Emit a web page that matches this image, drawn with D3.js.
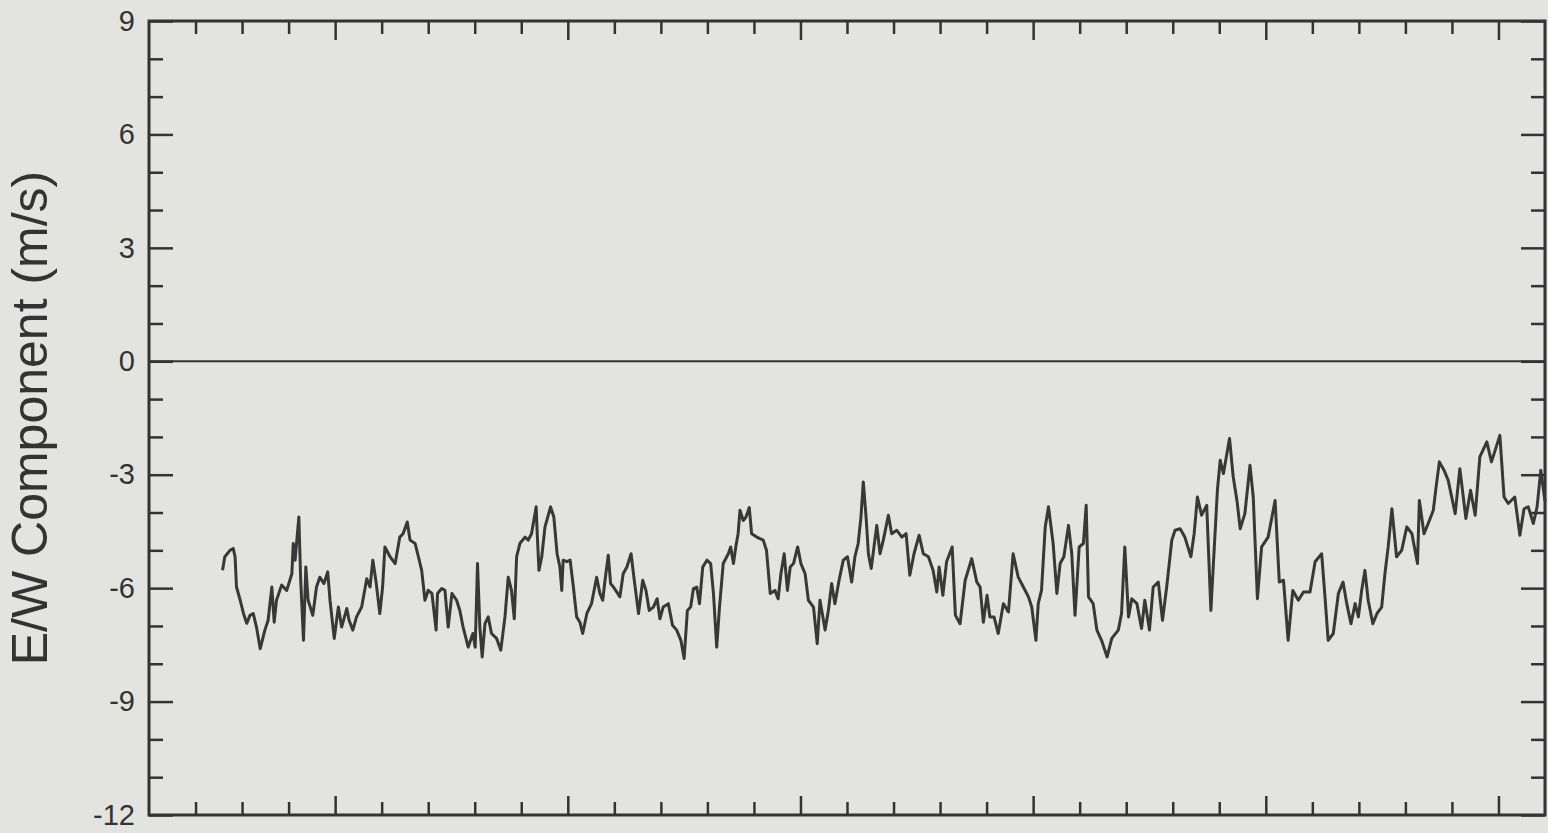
<!DOCTYPE html>
<html><head><meta charset="utf-8">
<script src="https://cdn.jsdelivr.net/npm/d3@7"></script>
<style>
html,body{margin:0;padding:0;background:#e3e4df;}
svg{display:block;}
</style></head>
<body>
<script>
// Time axis (unlabelled), 0..30 units
const timeDomain = [0, 30];
const valueDomain = [-12, 9];
const yMajorTicks = [9, 6, 3, 0, -3, -6, -9, -12];
const yMinorTicks = [8, 7, 5, 4, 2, 1, -1, -2, -4, -5, -7, -8, -10, -11];
const xMajorTicks = [4, 9, 14, 19, 24, 29];
const xMinorTicks = [1, 2, 3, 5, 6, 7, 8, 10, 11, 12, 13, 15, 16, 17, 18, 20, 21, 22, 23, 25, 26, 27, 28];
const yAxisTitle = "E/W Component (m/s)";

// E/W wind component series (time, m/s)
const times = [1.58,1.63,1.74,1.81,1.85,1.88,1.96,2.03,2.10,2.17,2.24,2.31,2.39,2.49,2.56,2.64,2.69,2.74,2.85,2.96,
3.07,3.10,3.14,3.22,3.26,3.32,3.37,3.42,3.52,3.60,3.67,3.76,3.84,3.89,3.98,4.07,4.14,4.25,4.30,4.38,
4.46,4.57,4.68,4.75,4.81,4.88,4.96,5.02,5.07,5.18,5.29,5.39,5.46,5.55,5.61,5.72,5.79,5.86,5.93,6.00,
6.08,6.17,6.20,6.29,6.36,6.43,6.51,6.61,6.68,6.75,6.86,6.96,7.01,7.06,7.11,7.16,7.22,7.29,7.36,7.47,
7.56,7.65,7.72,7.79,7.85,7.90,7.97,8.08,8.15,8.22,8.32,8.34,8.38,8.44,8.51,8.63,8.70,8.77,8.83,8.87,
8.90,8.98,9.05,9.12,9.19,9.26,9.32,9.41,9.51,9.62,9.69,9.75,9.80,9.87,9.92,9.98,10.05,10.12,10.19,10.27,
10.36,10.42,10.52,10.61,10.68,10.75,10.84,10.92,10.98,11.05,11.16,11.25,11.34,11.43,11.50,11.57,11.64,11.70,11.77,11.83,
11.90,11.99,12.07,12.13,12.20,12.26,12.34,12.45,12.50,12.56,12.61,12.66,12.70,12.77,12.83,12.90,12.95,13.06,13.20,13.27,
13.35,13.45,13.52,13.58,13.65,13.72,13.78,13.85,13.94,14.01,14.10,14.17,14.28,14.36,14.42,14.53,14.60,14.67,14.74,14.83,
14.92,15.01,15.10,15.17,15.24,15.30,15.35,15.41,15.46,15.52,15.58,15.64,15.71,15.78,15.89,15.96,16.07,16.18,16.27,16.35,
16.44,16.55,16.64,16.75,16.85,16.93,16.98,17.06,17.14,17.26,17.33,17.43,17.54,17.68,17.79,17.86,17.93,18.01,18.07,18.16,
18.25,18.36,18.47,18.57,18.68,18.79,18.90,18.97,19.06,19.11,19.18,19.26,19.33,19.43,19.51,19.58,19.66,19.76,19.83,19.90,
19.99,20.08,20.14,20.19,20.29,20.37,20.47,20.59,20.69,20.83,20.90,20.97,21.05,21.12,21.23,21.33,21.40,21.50,21.58,21.69,
21.78,21.87,21.98,22.05,22.16,22.26,22.39,22.46,22.53,22.62,22.73,22.82,22.87,22.96,23.02,23.09,23.22,23.30,23.38,23.45,
23.55,23.66,23.73,23.82,23.91,24.05,24.20,24.29,24.38,24.48,24.58,24.70,24.81,24.95,25.06,25.20,25.27,25.34,25.45,25.56,
25.66,25.74,25.83,25.92,25.99,26.06,26.13,26.20,26.30,26.39,26.49,26.56,26.63,26.71,26.81,26.92,27.03,27.14,27.26,27.30,
27.40,27.49,27.60,27.66,27.73,27.83,27.92,28.07,28.17,28.30,28.40,28.50,28.60,28.75,28.85,29.03,29.12,29.21,29.35,29.46,
29.55,29.64,29.75,29.83,29.91,30.00];
const ewValues = [-5.53,-5.17,-5.00,-4.95,-5.17,-5.97,-6.32,-6.67,-6.93,-6.72,-6.67,-7.03,-7.60,-7.11,-6.85,-5.97,-6.90,-6.32,-5.92,-6.06,
-5.62,-4.82,-5.26,-4.12,-5.79,-7.38,-5.44,-6.32,-6.72,-5.97,-5.71,-5.88,-5.57,-6.32,-7.33,-6.50,-7.03,-6.54,-6.85,-7.11,
-6.76,-6.50,-5.75,-5.97,-5.26,-5.84,-6.67,-5.97,-4.91,-5.17,-5.35,-4.65,-4.56,-4.25,-4.73,-4.82,-5.17,-5.53,-6.32,-6.06,
-6.14,-7.11,-6.14,-6.01,-6.06,-7.03,-6.14,-6.32,-6.59,-7.03,-7.56,-7.20,-7.56,-5.35,-7.03,-7.82,-6.94,-6.76,-7.20,-7.33,
-7.64,-6.76,-5.71,-6.06,-6.81,-5.17,-4.82,-4.65,-4.73,-4.56,-3.85,-4.47,-5.53,-5.17,-4.38,-3.85,-4.12,-5.09,-5.44,-6.06,
-5.26,-5.30,-5.26,-5.97,-6.76,-6.90,-7.20,-6.67,-6.41,-5.71,-6.14,-6.32,-5.79,-5.13,-5.88,-5.97,-6.10,-6.23,-5.62,-5.44,
-5.09,-5.71,-6.67,-5.79,-6.06,-6.59,-6.50,-6.28,-6.81,-6.50,-6.41,-6.98,-7.11,-7.38,-7.86,-6.59,-6.50,-6.01,-5.97,-6.41,
-5.44,-5.26,-5.35,-6.14,-7.56,-6.50,-5.35,-5.09,-4.91,-5.35,-4.91,-4.56,-3.94,-4.21,-4.12,-3.87,-4.56,-4.65,-4.73,-5.00,
-6.14,-6.06,-6.28,-5.62,-5.09,-6.06,-5.44,-5.35,-4.91,-5.35,-5.62,-6.32,-6.50,-7.47,-6.32,-7.11,-6.59,-5.88,-6.41,-5.79,
-5.26,-5.17,-5.84,-5.17,-4.82,-4.12,-3.19,-4.12,-5.09,-5.48,-4.91,-4.34,-5.09,-4.73,-4.07,-4.56,-4.47,-4.65,-4.56,-5.66,
-5.09,-4.60,-5.09,-5.17,-5.53,-6.10,-5.44,-6.19,-5.30,-4.91,-6.72,-6.94,-5.79,-5.22,-5.84,-5.97,-6.90,-6.19,-6.76,-6.76,
-7.20,-6.41,-6.63,-5.09,-5.71,-5.97,-6.23,-6.50,-7.38,-6.41,-6.06,-4.38,-3.85,-4.82,-6.14,-5.35,-5.17,-4.34,-5.09,-6.72,
-4.91,-4.82,-3.81,-6.23,-6.41,-7.11,-7.38,-7.82,-7.33,-7.11,-6.67,-4.91,-6.76,-6.28,-6.41,-7.07,-6.32,-7.11,-5.97,-5.84,
-6.85,-5.97,-4.73,-4.47,-4.43,-4.65,-5.17,-4.56,-3.59,-4.07,-3.81,-6.59,-5.44,-3.41,-2.62,-2.97,-2.04,-3.06,-3.68,-4.43,
-4.03,-2.75,-3.59,-6.28,-4.91,-4.65,-3.68,-5.84,-5.79,-7.38,-6.06,-6.32,-6.10,-6.10,-5.30,-5.09,-6.20,-7.38,-7.20,-6.14,
-5.84,-6.41,-6.94,-6.41,-6.76,-6.06,-5.53,-6.32,-6.94,-6.67,-6.50,-5.62,-4.91,-3.90,-5.17,-5.00,-4.38,-4.56,-5.35,-3.68,
-4.56,-4.29,-3.94,-3.32,-2.66,-2.88,-3.15,-4.03,-2.84,-4.16,-3.41,-4.07,-2.53,-2.13,-2.66,-1.96,-3.59,-3.76,-3.59,-4.60,
-3.90,-3.85,-4.29,-3.85,-2.88,-3.70];

(function () {
const W = 1548, H = 833;
const mLeft = 149, mRight = 1545, mTop = 21, mBottom = 815;
const ink = "#333333";
const fontFam = "'Liberation Sans', Arial, Helvetica, sans-serif";

const svg = d3.select("body").append("svg").attr("width", W).attr("height", H);
svg.append("rect").attr("width", W).attr("height", H).attr("fill", "#e3e4df");

const x = d3.scaleLinear().domain(timeDomain).range([mLeft, mRight]);
const y = d3.scaleLinear().domain(valueDomain).range([mBottom, mTop]);

function styleAxis(g) {
  g.select(".domain").remove();
  g.selectAll(".tick line").attr("stroke", ink).attr("stroke-width", 2.5);
  g.selectAll("text").attr("fill", ink).attr("font-family", fontFam).attr("font-size", 29);
}

svg.append("g").attr("transform", `translate(${mLeft},0)`)
  .call(d3.axisLeft(y).tickValues(yMajorTicks).tickSize(-24).tickPadding(14).tickFormat(d => String(d)))
  .call(styleAxis);
svg.append("g").attr("transform", `translate(${mLeft},0)`)
  .call(d3.axisLeft(y).tickValues(yMinorTicks).tickSize(-14).tickFormat(""))
  .call(styleAxis);
svg.append("g").attr("transform", `translate(${mRight},0)`)
  .call(d3.axisRight(y).tickValues(yMajorTicks).tickSize(-24).tickFormat(""))
  .call(styleAxis);
svg.append("g").attr("transform", `translate(${mRight},0)`)
  .call(d3.axisRight(y).tickValues(yMinorTicks).tickSize(-14).tickFormat(""))
  .call(styleAxis);
svg.append("g").attr("transform", `translate(0,${mBottom})`)
  .call(d3.axisBottom(x).tickValues(xMajorTicks).tickSize(-19).tickFormat(""))
  .call(styleAxis);
svg.append("g").attr("transform", `translate(0,${mBottom})`)
  .call(d3.axisBottom(x).tickValues(xMinorTicks).tickSize(-13).tickFormat(""))
  .call(styleAxis);
svg.append("g").attr("transform", `translate(0,${mTop})`)
  .call(d3.axisTop(x).tickValues(xMajorTicks).tickSize(-19).tickFormat(""))
  .call(styleAxis);
svg.append("g").attr("transform", `translate(0,${mTop})`)
  .call(d3.axisTop(x).tickValues(xMinorTicks).tickSize(-13).tickFormat(""))
  .call(styleAxis);

svg.append("rect")
  .attr("x", x(timeDomain[0])).attr("y", y(valueDomain[1]))
  .attr("width", x(timeDomain[1]) - x(timeDomain[0]))
  .attr("height", y(valueDomain[0]) - y(valueDomain[1]))
  .attr("fill", "none").attr("stroke", ink).attr("stroke-width", 3);

svg.append("line")
  .attr("x1", x(timeDomain[0])).attr("x2", x(timeDomain[1]))
  .attr("y1", y(0)).attr("y2", y(0))
  .attr("stroke", ink).attr("stroke-width", 2);

const data = times.map((t, i) => ({t, v: ewValues[i]}));
svg.append("path").datum(data)
  .attr("fill", "none").attr("stroke", "#383838").attr("stroke-width", 3)
  .attr("stroke-linejoin", "round")
  .attr("d", d3.line().x(d => x(d.t)).y(d => y(d.v)));

svg.append("text")
  .attr("transform", `translate(47,${(mTop + mBottom) / 2}) rotate(-90)`)
  .attr("text-anchor", "middle")
  .attr("fill", ink)
  .attr("font-family", fontFam)
  .attr("font-size", 50)
  .text(yAxisTitle);
})();
</script>
</body></html>
